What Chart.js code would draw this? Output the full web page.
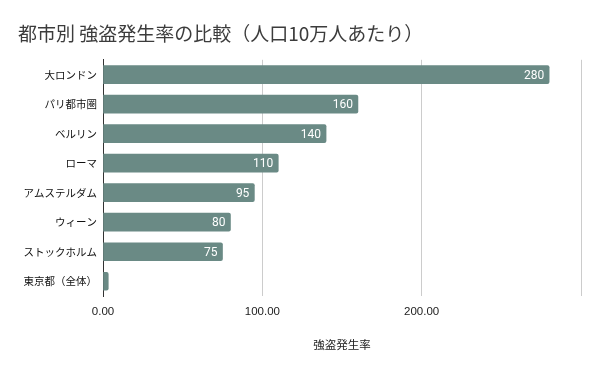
<!DOCTYPE html>
<html>
<head>
<meta charset="utf-8">
<script src="https://cdn.jsdelivr.net/npm/chart.js@4/dist/chart.umd.min.js"></script>
<style>
  html, body { margin: 0; padding: 0; background: #fff; }
  #wrap { width: 600px; height: 371px; }
</style>
</head>
<body>
<div id="wrap"><canvas id="chart" width="600" height="371"></canvas></div>
<script>
const cities = ['大ロンドン', 'パリ都市圏', 'ベルリン', 'ローマ', 'アムステルダム', 'ウィーン', 'ストックホルム', '東京都（全体）'];
const robberyRate = [280, 160, 140, 110, 95, 80, 75, 3.3];
const xTicks = [0, 100, 200, 300];
const xLabels = ['0.00', '100.00', '200.00', ''];

const JP = '"Noto Sans CJK JP", "Noto Sans", sans-serif';

// white value labels inside the bar ends
const barLabels = {
  id: 'barLabels',
  afterDatasetsDraw(chart) {
    const ctx = chart.ctx;
    const meta = chart.getDatasetMeta(0);
    ctx.save();
    ctx.font = '12px Roboto, sans-serif';
    ctx.fillStyle = '#ffffff';
    ctx.textAlign = 'right';
    ctx.textBaseline = 'middle';
    meta.data.forEach((bar, i) => {
      if (bar.x - bar.base < 30) return;
      ctx.fillText(String(robberyRate[i]), bar.x - 5, bar.y + 1);
    });
    ctx.restore();
  }
};

new Chart(document.getElementById('chart'), {
  type: 'bar',
  data: {
    labels: cities,
    datasets: [{
      data: robberyRate,
      backgroundColor: '#6a8a85',
      borderRadius: { topRight: 2, bottomRight: 2 },
      borderSkipped: 'start',
      barThickness: 18
    }]
  },
  options: {
    indexAxis: 'y',
    responsive: false,
    animation: false,
    layout: { padding: { left: 18, right: 19, top: 0, bottom: 0 } },
    plugins: {
      legend: { display: false },
      tooltip: { enabled: false },
      title: {
        display: true,
        text: '都市別 強盗発生率の比較（人口10万人あたり）',
        align: 'start',
        color: '#3c3c3c',
        font: { family: JP, size: 19, weight: 'normal' },
        padding: { top: 22, bottom: 15 }
      }
    },
    scales: {
      x: {
        min: 0,
        max: 300,
        afterBuildTicks: s => { s.ticks = xTicks.map(v => ({ value: v })); },
        afterFit: s => { s.height = 75; },
        ticks: {
          color: '#222',
          font: { family: '"Liberation Sans", Arial, sans-serif', size: 11.5 },
          padding: 9,
          callback: (v, i) => xLabels[i]
        },
        grid: {
          drawTicks: false,
          color: c => c.tick && c.tick.value === 0 ? 'rgba(0,0,0,0)' : '#cccccc'
        },
        border: { display: false },
        title: {
          display: true,
          text: '強盗発生率',
          color: '#222',
          font: { family: JP, size: 11.5 },
          padding: { top: 0, bottom: 19 }
        }
      },
      y: {
        afterFit: s => { s.width = 85; },
        grid: { display: false, drawTicks: false },
        border: { display: true, color: '#333333', width: 1 },
        ticks: {
          color: '#111',
          font: { family: JP, size: 10.5 },
          padding: 6
        }
      }
    }
  },
  plugins: [barLabels]
});
</script>
</body>
</html>
